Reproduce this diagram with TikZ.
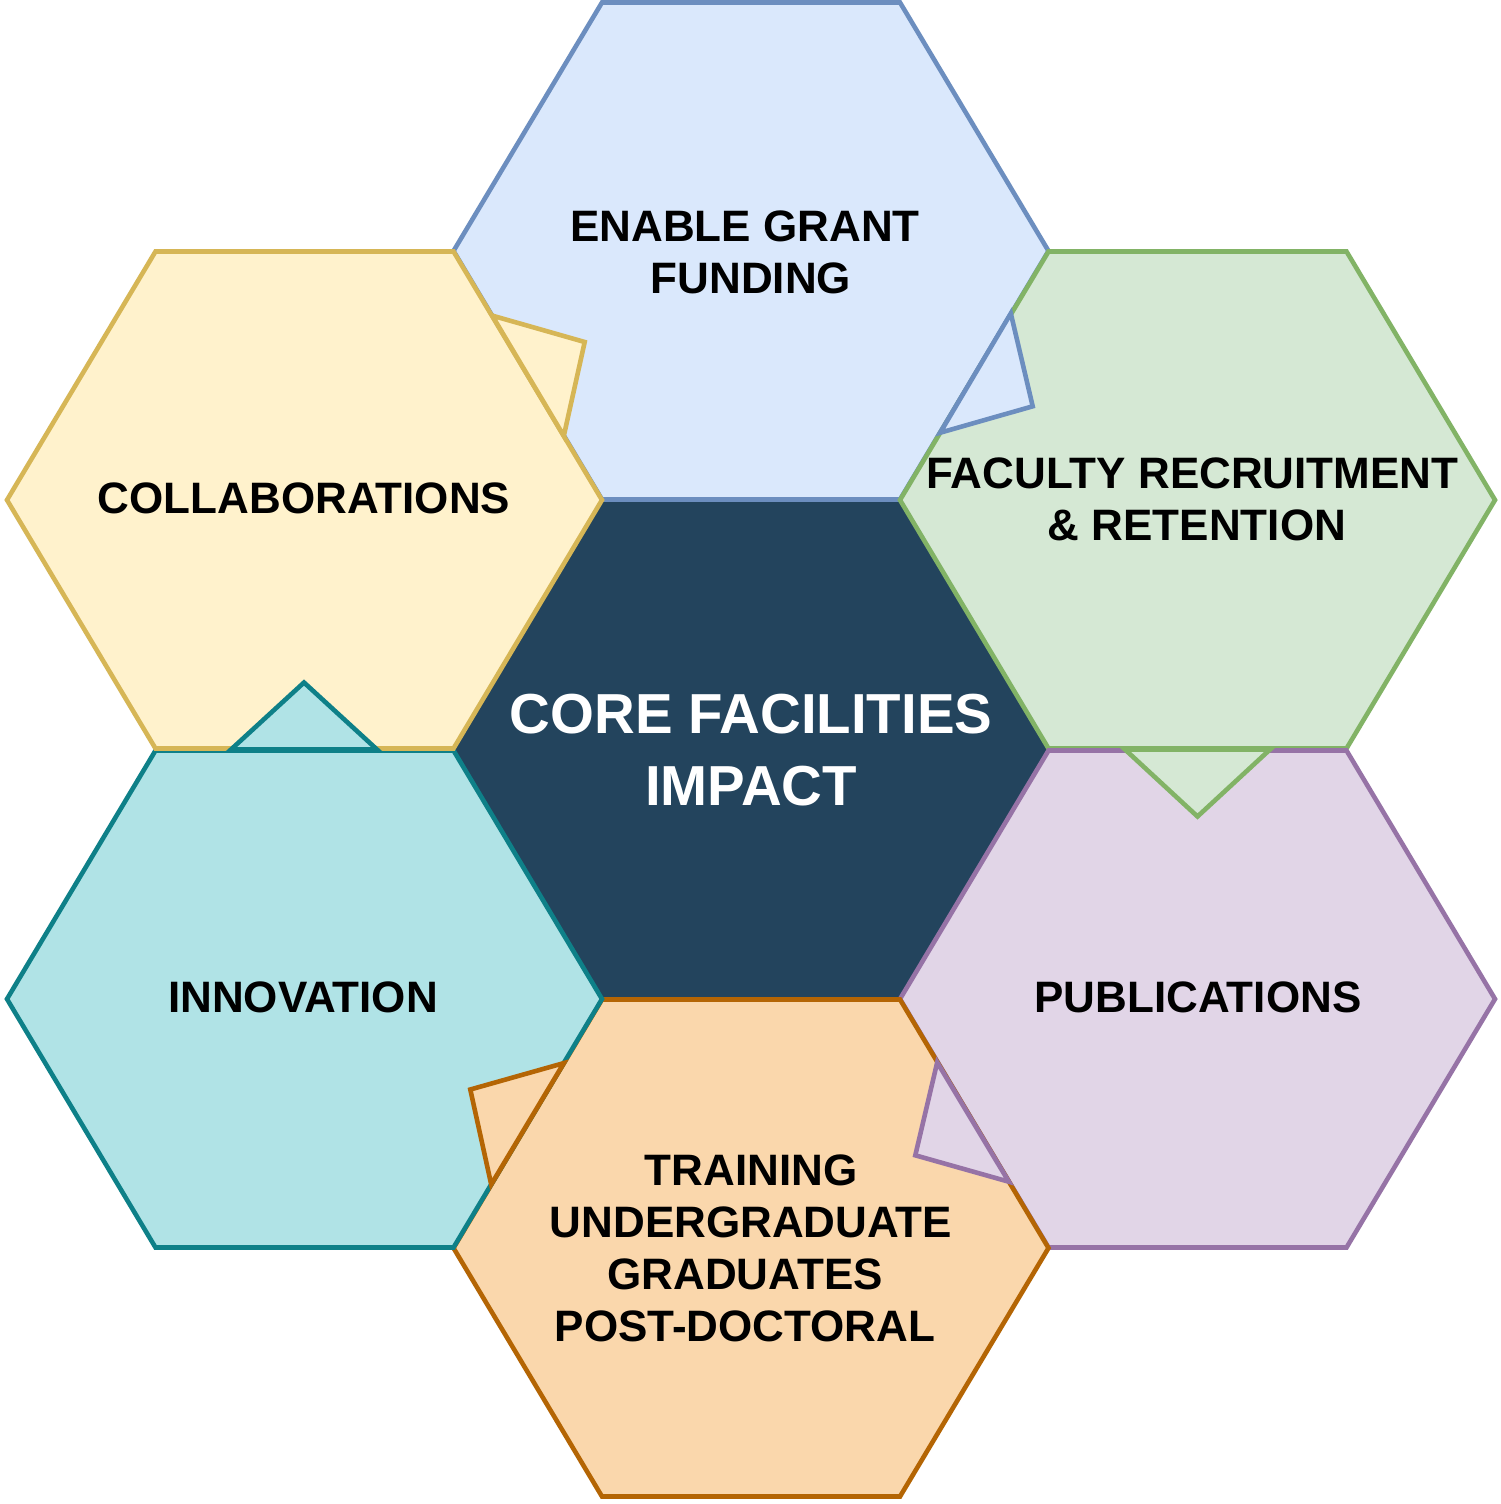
\documentclass[tikz,border=0pt]{standalone}
\usepackage{fontspec}
\setmainfont{Liberation Sans}
\definecolor{bluefill}{HTML}{DAE8FC}\definecolor{bluedraw}{HTML}{6C8EBF}
\definecolor{greenfill}{HTML}{D5E8D4}\definecolor{greendraw}{HTML}{82B366}
\definecolor{purplefill}{HTML}{E1D5E7}\definecolor{purpledraw}{HTML}{9673A6}
\definecolor{orangefill}{HTML}{FAD7AC}\definecolor{orangedraw}{HTML}{B46504}
\definecolor{tealfill}{HTML}{B0E3E6}\definecolor{tealdraw}{HTML}{0E8088}
\definecolor{yellowfill}{HTML}{FFF2CC}\definecolor{yellowdraw}{HTML}{D6B656}
\definecolor{corefill}{HTML}{23445D}
\newcommand\hexpath[2]{(#1-297.5,#2) -- ++(148.5,-248.5) -- ++(298,0) -- ++(148.5,248.5) -- ++(-148.5,248.5) -- ++(-298,0) -- cycle}
\begin{document}
\begin{tikzpicture}[x=0.5pt,y=-0.5pt,
  base/.style={line width=2.3pt,line join=miter},
  hexcore/.style={base,fill=corefill,draw=corefill},
  hexblue/.style={base,fill=bluefill,draw=bluedraw},
  hexgreen/.style={base,fill=greenfill,draw=greendraw},
  hexpurple/.style={base,fill=purplefill,draw=purpledraw},
  hexorange/.style={base,fill=orangefill,draw=orangedraw},
  hexteal/.style={base,fill=tealfill,draw=tealdraw},
  hexyellow/.style={base,fill=yellowfill,draw=yellowdraw},
  lbl/.style={font=\bfseries\fontsize{22}{26}\selectfont,align=center,inner sep=0pt,text=black},
  corelbl/.style={font=\bfseries\fontsize{28.2}{36}\selectfont,align=center,inner sep=0pt,text=white}]
\useasboundingbox[fill=white] (0,0) rectangle (1500,1504);
% hexagons
\draw[hexcore] \hexpath{751}{749.5};
\draw[hexblue] \hexpath{751}{251};
\draw[hexgreen] \hexpath{1197.5}{500};
\draw[hexpurple] \hexpath{1197.5}{999};
\draw[hexorange] \hexpath{751}{1248};
\draw[hexteal] \hexpath{304.5}{999};
\draw[hexyellow] \hexpath{304.5}{500};
% tabs
\draw[hexyellow] (492.2,315.6) -- (584.7,342.0) -- (563.8,435.9) -- cycle;
\draw[hexblue] (1010.8,313.4) -- (1032.7,406.3) -- (940.2,432.7) -- cycle;
\draw[hexgreen] (1125,749.5) -- (1197.5,816.5) -- (1270,749.5) -- cycle;
\draw[hexpurple] (937.2,1062.4) -- (915.3,1155.3) -- (1008.8,1181.7) -- cycle;
\draw[hexorange] (563.8,1063.1) -- (470.3,1089.5) -- (491.2,1184.4) -- cycle;
\draw[hexteal] (231,749.5) -- (304,682.5) -- (377,749.5) -- cycle;
% labels
\node[corelbl] (core) at (751,750) {CORE FACILITIES\\IMPACT};
\node[lbl] (grant) at (751,252) {ENABLE GRANT\kern6pt\\FUNDING};
\node[lbl] (collab) at (304,498) {COLLABORATIONS};
\node[lbl] (faculty) at (1197,499) {FACULTY RECRUITMENT\kern4.5pt\\\& RETENTION};
\node[lbl] (innov) at (303,997) {INNOVATION};
\node[lbl] (pubs) at (1198,997) {PUBLICATIONS};
\node[lbl] (train) at (751,1248) {TRAINING\\UNDERGRADUATE\\GRADUATES\kern6pt\\POST-DOCTORAL\kern6pt};
\end{tikzpicture}
\end{document}
